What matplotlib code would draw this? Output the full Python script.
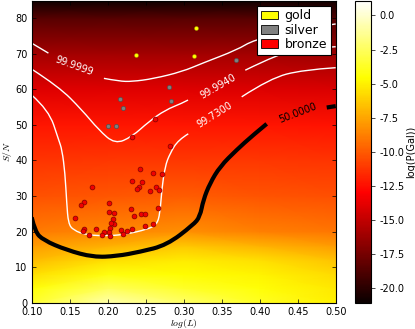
import numpy as np
import matplotlib
matplotlib.use("Agg")
import matplotlib.pyplot as plt
from matplotlib.patches import Patch, PathPatch
from matplotlib.path import Path

plt.rcParams['axes.unicode_minus'] = False
plt.rcParams['mathtext.fontset'] = 'cm'

# ---- background field: log(P(Gal)) on a coarse grid ----
grid_x = [0.10, 0.20, 0.30, 0.40, 0.50]
grid_y = [0, 4, 8, 12, 16, 20, 30, 40, 50, 60, 70, 80, 85]
logp_x010 = [-3.5, -4.4, -5.6, -6.8, -7.9, -8.9, -10.3, -11.3, -12.3, -14.0, -16.0, -18.5, -21.0]
logp_x020 = [-0.8, -2.6, -4.2, -5.6, -7.2, -8.6, -10.1, -11.2, -12.3, -14.0, -16.0, -18.5, -21.0]
logp_x030 = [-2.2, -3.6, -4.6, -5.2, -6.4, -8.2, -10.0, -11.2, -12.3, -14.0, -16.0, -18.5, -21.0]
logp_x040 = [-3.8, -4.4, -4.9, -5.6, -7.1, -8.7, -10.2, -11.2, -12.3, -14.1, -16.0, -18.5, -21.0]
logp_x050 = [-5.0, -5.3, -5.8, -6.6, -7.9, -9.1, -10.4, -11.3, -12.4, -14.2, -16.2, -18.6, -21.0]

# ---- confidence contours ----
c9999_a_x = [0.100, 0.122]
c9999_a_y = [73.0, 70.2]
c9999_b_x = [0.195, 0.215, 0.232, 0.260, 0.298, 0.325, 0.370, 0.392, 0.450, 0.500]
c9999_b_y = [63.1, 62.3, 62.2, 63.0, 65.0, 67.4, 71.1, 73.9, 77.0, 78.4]

c9940_a_x = [0.100, 0.1355, 0.1662, 0.1882, 0.2096, 0.232, 0.2539, 0.2758, 0.2978, 0.3057]
c9940_a_y = [65.7, 60.8, 54.2, 48.6, 44.6, 46.7, 50.9, 54.2, 56.1, 57.0]
c9940_b_x = [0.381, 0.4268, 0.46, 0.500]
c9940_b_y = [65.4, 70.2, 71.5, 72.0]

c9730_a_x = [0.100, 0.1224, 0.1355, 0.1399, 0.1438, 0.1461, 0.1482, 0.1547, 0.1724, 0.203,
             0.225, 0.2513, 0.2645, 0.2688, 0.2711, 0.2754, 0.282, 0.2929, 0.306]
c9730_a_y = [58.4, 54.2, 45.8, 43.0, 36.5, 28.0, 22.3, 20.4, 19.0, 18.8,
             19.3, 20.6, 21.9, 25.1, 31.7, 38.3, 42.0, 45.8, 47.5]
c9730_b_x = [0.3763, 0.4136, 0.457, 0.500]
c9730_b_y = [57.9, 63.1, 65.5, 66.1]

c50_a_x = [0.100, 0.1043, 0.1153, 0.146, 0.1811, 0.2118, 0.2425, 0.2776, 0.3126, 0.3214,
           0.3258, 0.3346, 0.3478, 0.3697, 0.3916, 0.4092]
c50_a_y = [24.0, 20.0, 17.6, 14.8, 12.8, 13.1, 14.3, 16.2, 21.9, 24.2,
           28.9, 33.6, 38.3, 43.0, 47.2, 50.3]
c50_b_x = [0.4882, 0.500]
c50_b_y = [54.9, 55.3]

contour_labels = ["99.9999", "99.9940", "99.7300", "50.0000"]
label_x = [0.1553, 0.3455, 0.3412, 0.450]
label_y = [66.6, 60.8, 52.8, 53.4]
label_rot = [-20, 30, 32, 21]
label_col = ["white", "white", "white", "black"]

# ---- galaxies ----
gold_x = [0.2376, 0.3162, 0.3136]
gold_y = [69.8, 77.4, 69.5]
silver_x = [0.2162, 0.2205, 0.2008, 0.2113, 0.2807, 0.2829, 0.3688]
silver_y = [57.2, 54.9, 49.6, 49.6, 60.8, 56.7, 68.4]
bronze_x = [0.2324, 0.2626, 0.282, 0.2425, 0.2592, 0.2718, 0.2316, 0.2447, 0.2412, 0.2389,
            0.2557, 0.2636, 0.2675, 0.1797, 0.1692, 0.1649, 0.2013, 0.157, 0.2013, 0.2083,
            0.2311, 0.2438, 0.2487, 0.2662, 0.2066, 0.2346, 0.2087, 0.2039, 0.203, 0.2021,
            0.203, 0.1692, 0.1679, 0.175, 0.185, 0.1947, 0.1925, 0.2179, 0.225, 0.232,
            0.2205, 0.2491, 0.2592]
bronze_y = [46.5, 51.6, 44.2, 37.7, 36.4, 36.3, 34.3, 34.0, 32.6, 32.0,
            31.4, 32.5, 31.8, 32.5, 28.2, 27.4, 28.0, 23.9, 25.5, 25.1,
            26.3, 24.9, 24.9, 26.6, 23.5, 24.4, 22.2, 22.3, 21.1, 19.9,
            18.8, 20.6, 20.3, 19.0, 20.6, 19.8, 19.0, 20.4, 20.2, 20.6,
            19.2, 21.5, 22.2]

cbar_ticks = [0.0, -2.5, -5.0, -7.5, -10.0, -12.5, -15.0, -17.5, -20.0]
x_ticks = [0.10, 0.15, 0.20, 0.25, 0.30, 0.35, 0.40, 0.45, 0.50]
y_ticks = [0, 10, 20, 30, 40, 50, 60, 70, 80]


def smooth_path(xs, ys):
    pts = np.column_stack([xs, ys])
    if len(pts) < 3:
        return Path(pts)
    verts = [pts[0]]
    codes = [Path.MOVETO]
    n = len(pts)
    for i in range(1, n - 1):
        end = (pts[i] + pts[i + 1]) / 2 if i < n - 2 else pts[i + 1]
        verts += [pts[i], end]
        codes += [Path.CURVE3, Path.CURVE3]
    return Path(verts, codes)


fig = plt.figure(figsize=(4.15, 3.29), dpi=100)
ax = fig.add_axes([31.7 / 415, 26.3 / 329, 304 / 415, 302.2 / 329])
cax = fig.add_axes([355 / 415, 26.3 / 329, 15.7 / 415, 302.2 / 329])

Z = np.array([logp_x010, logp_x020, logp_x030, logp_x040, logp_x050]).T
X, Y = np.meshgrid(grid_x, grid_y)
mesh = ax.pcolormesh(X, Y, Z, shading='gouraud', cmap='hot', vmin=-21.1, vmax=1.1, zorder=0)

for xs, ys in [(c9999_a_x, c9999_a_y), (c9999_b_x, c9999_b_y), (c9940_a_x, c9940_a_y),
               (c9940_b_x, c9940_b_y), (c9730_a_x, c9730_a_y), (c9730_b_x, c9730_b_y)]:
    ax.add_patch(PathPatch(smooth_path(xs, ys), fill=False, edgecolor='white', lw=1.0,
                           zorder=2, capstyle='butt'))
for xs, ys in [(c50_a_x, c50_a_y), (c50_b_x, c50_b_y)]:
    ax.add_patch(PathPatch(smooth_path(xs, ys), fill=False, edgecolor='black', lw=3.0,
                           zorder=2, capstyle='butt'))

for t, lx, ly, r, c in zip(contour_labels, label_x, label_y, label_rot, label_col):
    ax.text(lx, ly, t, color=c, rotation=r, fontsize=7, ha='center', va='center',
            rotation_mode='anchor', zorder=3)

ax.scatter(bronze_x, bronze_y, s=12, c='#f00000', edgecolors='#800000', linewidths=0.5, zorder=4)
ax.scatter(silver_x, silver_y, s=9, c='#808080', edgecolors='#505050', linewidths=0.5, zorder=4)
ax.scatter(gold_x, gold_y, s=8, c='#ffff00', edgecolors='#a0a000', linewidths=0.3, zorder=4)

ax.set_xlim(0.10, 0.50)
ax.set_ylim(0, 85)
ax.set_xticks(x_ticks)
ax.set_xticklabels(["%.2f" % v for v in x_ticks])
ax.set_yticks(y_ticks)
ax.tick_params(direction='in', top=True, right=True, labelsize=7, length=3, width=0.5, pad=3)
ax.set_xlabel('$log(L)$', fontsize=7, labelpad=0)
ax.set_ylabel('$S/N$', fontsize=7, labelpad=1)

handles = [Patch(facecolor='#ffff00', edgecolor='black', lw=0.6),
           Patch(facecolor='#808080', edgecolor='black', lw=0.6),
           Patch(facecolor='#ff0000', edgecolor='black', lw=0.6)]
leg = ax.legend(handles, ['gold', 'silver', 'bronze'], loc='upper right', fontsize=9,
                fancybox=False, framealpha=1, edgecolor='black', borderaxespad=0.4,
                handlelength=1.4, handleheight=0.7, handletextpad=0.5, labelspacing=0.1,
                borderpad=0.3)
leg.get_frame().set_linewidth(0.8)
leg.set_zorder(10)

cb = fig.colorbar(mesh, cax=cax, ticks=cbar_ticks)
cb.ax.set_yticklabels(["%.1f" % v for v in cbar_ticks])
cb.ax.tick_params(labelsize=7, length=3, width=0.5)
cb.set_label('log(P(Gal))', fontsize=7, labelpad=1)
cb.outline.set_linewidth(0.8)

fig.savefig('out.png', dpi=100)
